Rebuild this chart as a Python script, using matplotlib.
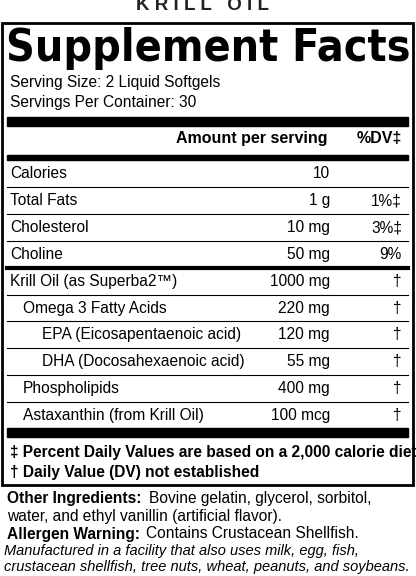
import matplotlib.pyplot as plt

plt.rcParams['font.family'] = ['Liberation Sans', 'DejaVu Sans']

# label rows: name, indent level, amount, %DV
names = ['Calories', 'Total Fats', 'Cholesterol', 'Choline',
         'Krill Oil (as Superba2™)', 'Omega 3 Fatty Acids',
         'EPA (Eicosapentaenoic acid)', 'DHA (Docosahexaenoic acid)',
         'Phospholipids', 'Astaxanthin (from Krill Oil)']
indents = [0, 0, 0, 0, 0, 1, 2, 2, 1, 1]
amounts = ['10', '1 g', '10 mg', '50 mg', '1000 mg', '220 mg', '120 mg',
           '55 mg', '400 mg', '100 mcg']
dvs = ['', '1%‡', '3%‡', '9%', '†', '†', '†', '†', '†', '†']

fs = 11.2
fig = plt.figure(figsize=(4.16, 5.76), dpi=100)
ax = fig.add_axes([0, 0, 1, 1])
ax.set_xlim(0, 416)
ax.set_ylim(576, 0)
ax.axis('off')

# header
ax.text(202, 5, 'K R I L L   O I L', ha='center', va='center', fontsize=13.5,
        color='#222', fontweight='bold')
ax.add_patch(plt.Rectangle((2, 23), 411, 462, fill=False, lw=2, ec='black'))
ax.text(208, 48, 'Supplement Facts', ha='center', va='center', fontsize=32,
        fontweight='heavy', family=['DejaVu Sans'], stretch='condensed')
ax.text(10, 82, 'Serving Size: 2 Liquid Softgels', va='center', fontsize=fs)
ax.text(10, 102, 'Servings Per Container: 30', va='center', fontsize=fs)
ax.add_patch(plt.Rectangle((7, 117), 401, 9, color='black'))
ax.text(328, 138, 'Amount per serving', ha='right', va='center', fontsize=11.5, fontweight='bold')
ax.text(402, 138, '%DV‡', ha='right', va='center', fontsize=11.5, fontweight='bold')
ax.add_patch(plt.Rectangle((7, 155), 401, 5, color='black'))

row_y = 174
step = 26.8
for i in range(len(names)):
    y = row_y + i * step
    ax.text(10 + indents[i] * 13 + (indents[i] == 2) * 6, y, names[i], va='center', fontsize=fs)
    ax.text(330, y, amounts[i], ha='right', va='center', fontsize=fs)
    ax.text(402, y, dvs[i], ha='right', va='center', fontsize=fs)
    if i < len(names) - 1:
        ly = y + step / 2
        ax.plot([7, 408], [ly, ly], color='black', lw=3 if i == 3 else 0.8)

ax.add_patch(plt.Rectangle((7, 428), 401, 9, color='black'))
ax.text(10, 452, '‡ Percent Daily Values are based on a 2,000 calorie diet', va='center',
        fontsize=11.2, fontweight='bold')
ax.text(10, 472, '† Daily Value (DV) not established', va='center', fontsize=11.2, fontweight='bold')

ax.text(7, 498, 'Other Ingredients:', va='center', fontsize=fs, fontweight='bold')
ax.text(149, 498, 'Bovine gelatin, glycerol, sorbitol,', va='center', fontsize=fs)
ax.text(7, 516, 'water, and ethyl vanillin (artificial flavor).', va='center', fontsize=fs)
ax.text(7, 534, 'Allergen Warning:', va='center', fontsize=fs, fontweight='bold')
ax.text(146, 534, 'Contains Crustacean Shellfish.', va='center', fontsize=fs)
ax.text(4, 551, 'Manufactured in a facility that also uses milk, egg, fish,', va='center',
        fontsize=10.5, style='italic')
ax.text(4, 567, 'crustacean shellfish, tree nuts, wheat, peanuts, and soybeans.', va='center',
        fontsize=10.5, style='italic')

fig.savefig('out.png', dpi=100)
